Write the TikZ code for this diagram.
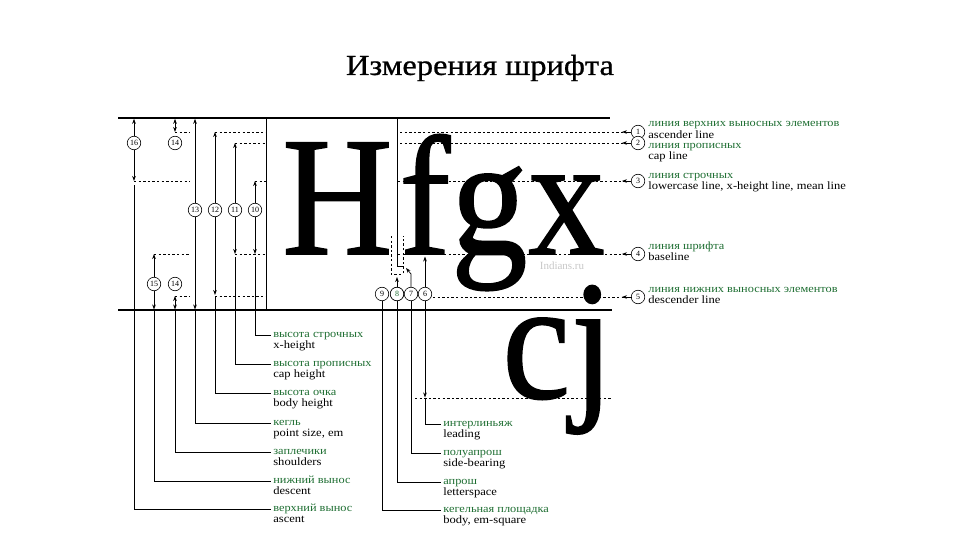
\documentclass[tikz,border=0pt]{standalone}
\usepackage{fontspec}
\usepackage{graphicx}
\setmainfont{Liberation Serif}
\newfontfamily\labfont{Liberation Serif}[FakeStretch=1.12]
\newfontfamily\specfont{Liberation Serif}[FakeBold=1]
\newfontfamily\headfont{Liberation Serif}[FakeStretch=1.12,FakeBold=0.7]
\usetikzlibrary{arrows.meta,positioning,calc}
\definecolor{rugreen}{RGB}{30,110,50}

\tikzset{
  num/.style={circle,draw,line width=0.6pt,fill=white,inner sep=0pt,minimum size=13.5pt,font=\fontsize{8}{8}\selectfont},
  ru/.style={text=rugreen,inner sep=0pt,font=\labfont\fontsize{11}{11}\selectfont,text height=7pt,text depth=2pt},
  en/.style={inner sep=0pt,font=\labfont\fontsize{11.2}{11.2}\selectfont,text height=7.5pt,text depth=2pt},
  glyph/.style={inner sep=0pt,anchor=base west},
  rule/.style={line width=1.7pt},
  guide/.style={line width=0.9pt,dash pattern=on 2.4pt off 2.2pt},
  leader/.style={line width=0.7pt,shorten >=2pt},
}
\newcommand\bigletters[1]{\scalebox{0.9}[1]{\specfont\fontsize{170}{170}\selectfont #1}}
\newcommand\termlabel[4]{%
  \node[ru,anchor=west] (#1) at (#2) {#3};
  \node[en,below=1pt of #1.south west,anchor=north west] (#1e) {#4};}

\begin{document}
\begin{tikzpicture}[x=1pt,y=-1pt,>={Stealth[length=5pt,width=3.6pt]},line width=0.7pt]
\useasboundingbox (0,0) rectangle (960,540);

\node[font=\headfont\fontsize{29}{29}\selectfont] (title) at (480,68) {Измерения шрифта};

% specimen
\node[glyph,anchor=base east] (H) at (393,254) {\bigletters{H}};
\node[glyph] (f) at (399,254) {\bigletters{f}};
\node[glyph] (g) at (f.base east) {\bigletters{g}};
\node[glyph] (x) at (g.base east) {\bigletters{x}};
\node[glyph] (c) at (502,398) {\bigletters{c}};
\node[glyph] (j) at (c.base east) {\bigletters{j}};
\node[text=black!22,font=\fontsize{11}{11}\selectfont] (mark) at (562,266) {Indians.ru};

% body of the type
\draw[rule] (118,118) coordinate (topl) -- (610,118) coordinate (topr);
\draw[rule] (118,310) coordinate (botl) -- (612,310) coordinate (botr);
\draw (266,118) coordinate (lb1) -- (266,310) coordinate (lb2);
\draw (397,118) coordinate (rb1) -- (397,266) coordinate (rb2);

% guide lines, left
\draw[guide] (175,132) -- (190,132);  \draw[guide] (215,132) -- (266,132);
\draw[guide] (235,143) -- (266,143);
\draw[guide] (134,181) -- (190,181);  \draw[guide] (255,181) -- (266,181);
\draw[guide] (154,254) -- (190,254);  \draw[guide] (235,254) -- (266,254);
\draw[guide] (175,296) -- (190,296);  \draw[guide] (215,296) -- (266,296);

% guide lines, right
\foreach \n/\y in {1/132,2/143,3/181,4/254,5/297}
  \node[num] (r\n) at (638,\y) {\n};
\foreach \n/\x/\y in {1/400/132,2/400/143,3/398/181,4/398/254,5/433/297}{
  \draw[guide] (\x,\y) coordinate (gs\n) -- (r\n.west);
  \draw[->] (r\n.west) -- ++(-9,0);
}
\draw[guide] (415,398) coordinate (ld1) -- (612,398) coordinate (ld2);

% measures, left
\node[num] (m16) at (134,143) {16};
\node[num] (m14a) at (175,143) {14};
\node[num] (m13) at (195,210) {13};
\node[num] (m12) at (215,210) {12};
\node[num] (m11) at (235,210) {11};
\node[num] (m10) at (255,210) {10};
\node[num] (m15) at (154,284) {15};
\node[num] (m14b) at (175,284) {14};

\draw[->] (m16.north) -- (134,118.8);  \draw[->] (m16.south) -- (134,181) coordinate (e16);
\draw[<->] (175,118.8) -- (175,132);
\draw[->] (m13.north) -- (195,118.8);  \draw[->] (m13.south) -- (195,309.5) coordinate (e13);
\draw[->] (m12.north) -- (215,132);    \draw[->] (m12.south) -- (215,295) coordinate (e12);
\draw[->] (m11.north) -- (235,143);    \draw[->] (m11.south) -- (235,254) coordinate (e11);
\draw[->] (m10.north) -- (255,181);    \draw[->] (m10.south) -- (255,254) coordinate (e10);
\draw[->] (m15.north) -- (154,254);    \draw[->] (m15.south) -- (154,309.5) coordinate (e15);
\draw[<->] (175,296) -- (175,309.5) coordinate (e14);

% measures, middle
\draw[guide] (391,236) -- (391,274) -- (403,274) -- (403,236);
\draw (397,266) -- (404,266);
\foreach \n/\x in {9/382,8/397,7/411,6/425}
  \node[num] (m\n) at (\x,294) {\n};
\node[num,text=rugreen] at (m8) {8};
\draw[->] (m8.north) -- (397,277);
\draw[->] (m7.north) -- (411,274) -- (406,268);
\draw[->] (m6.north) -- (425,256.5);
\draw[->] (m6.south) -- (425,397.5) coordinate (e6);

% labels
\termlabel{xh}{273,335}{высота строчных}{x-height}
\termlabel{caph}{273,364}{высота прописных}{cap height}
\termlabel{bodyh}{273,393}{высота очка}{body height}
\termlabel{pts}{273,423}{кегль}{point size, em}
\termlabel{shoul}{273,452}{заплечики}{shoulders}
\termlabel{desc}{273,481}{нижний вынос}{descent}
\termlabel{asc}{273,509}{верхний вынос}{ascent}

\termlabel{lead}{443,424}{интерлиньяж}{leading}
\termlabel{sbear}{443,453}{полуапрош}{side-bearing}
\termlabel{lsp}{443,482}{апрош}{letterspace}
\termlabel{ems}{443,510}{кегельная площадка}{body, em-square}

\termlabel{ascl}{648,124.5}{линия верхних выносных элементов}{ascender line}
\termlabel{capl}{648,146}{линия прописных}{cap line}
\termlabel{xhl}{648,176}{линия строчных}{lowercase line, x-height line, mean line}
\termlabel{basel}{648,247}{линия шрифта}{baseline}
\termlabel{descl}{648,290}{линия нижних выносных элементов}{descender line}

% leaders
\draw[leader] (134,185) |- (asc.west);
\draw[leader] (e15) |- (desc.west);
\draw[leader] (e14) |- (shoul.west);
\draw[leader] (e13) |- (pts.west);
\draw[leader] (215,297) |- (bodyh.west);
\draw[leader] (235,257) |- (caph.west);
\draw[leader] (255,257) |- (xh.west);

\draw[leader] (m9.south) |- (ems.west);
\draw[leader] (m8.south) |- (lsp.west);
\draw[leader] (m7.south) |- (sbear.west);
\draw[leader] (e6) |- (lead.west);
\end{tikzpicture}
\end{document}
